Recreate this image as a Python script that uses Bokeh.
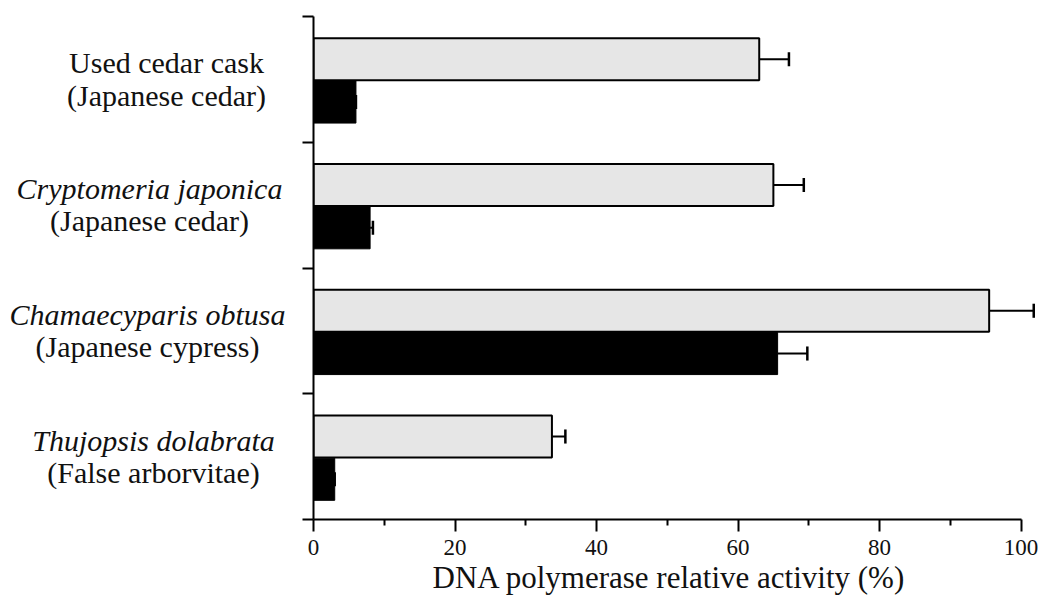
from bokeh.plotting import figure
from bokeh.layouts import row
from bokeh.models import Range1d, FixedTicker, ColumnDataSource, Title
from bokeh.core.properties import value
from bokeh.embed import file_html
from bokeh.resources import INLINE

# ---- data (top to bottom) ----
species = ["Used cedar cask", "Cryptomeria japonica", "Chamaecyparis obtusa", "Thujopsis dolabrata"]
common_names = ["(Japanese cedar)", "(Japanese cedar)", "(Japanese cypress)", "(False arborvitae)"]
name_style = ["normal", "italic", "italic", "italic"]

control_activity = [63.0, 65.0, 95.5, 33.7]      # light grey bars
control_err = [4.2, 4.3, 6.3, 1.9]
treated_activity = [6.0, 8.0, 65.6, 3.0]         # black bars
treated_err = [0.0, 0.4, 4.2, 0.0]

x_ticks = [0, 20, 40, 60, 80, 100]
x_minor = [10, 30, 50, 70, 90]
x_title = "DNA polymerase relative activity (%)"

# ---- layout constants ----
W, H = 1040, 598
LABEL_W = 293            # width of the label panel on the left
AXIS_PAD = 20            # room for the left axis ticks of the bar panel
TOP, BOTTOM = 16, 79
PX_PER_UNIT = 7.075
X_END = (W - LABEL_W - AXIS_PAD) / PX_PER_UNIT
FONT = "Times New Roman"
TEXT_COLOR = "#111111"

n = len(species)
centers = [n - i - 0.5 for i in range(n)]
bar_h = 0.335
y_ctrl = [c + 0.16 for c in centers]
y_trt = [c - 0.18 for c in centers]
y_range = Range1d(0, n)

# ---- bar panel ----
p = figure(width=W - LABEL_W, height=H, output_backend="svg", toolbar_location=None,
           x_range=Range1d(0, X_END), y_range=y_range,
           min_border_left=AXIS_PAD, min_border_right=0,
           min_border_top=TOP, min_border_bottom=BOTTOM)
p.outline_line_color = None
p.grid.visible = False

src = ColumnDataSource(dict(
    y_ctrl=y_ctrl, y_trt=y_trt,
    ctrl=control_activity, trt=treated_activity,
    ctrl_hi=[v + e for v, e in zip(control_activity, control_err)],
    trt_hi=[v + e for v, e in zip(treated_activity, treated_err)],
    ctrl_cap_lo=[y - 0.056 for y in y_ctrl], ctrl_cap_hi=[y + 0.056 for y in y_ctrl],
    trt_cap_lo=[y - 0.056 for y in y_trt], trt_cap_hi=[y + 0.056 for y in y_trt],
))

p.hbar(y="y_ctrl", left=0, right="ctrl", height=bar_h, source=src,
       fill_color="#e6e6e6", line_color="black", line_width=2)
p.hbar(y="y_trt", left=0, right="trt", height=bar_h, source=src,
       fill_color="black", line_color="black", line_width=1)

# error bars (upper side only)
p.segment(x0="ctrl", y0="y_ctrl", x1="ctrl_hi", y1="y_ctrl", source=src,
          line_color="black", line_width=2)
p.segment(x0="ctrl_hi", y0="ctrl_cap_lo", x1="ctrl_hi", y1="ctrl_cap_hi", source=src,
          line_color="black", line_width=2.5)
p.segment(x0="trt", y0="y_trt", x1="trt_hi", y1="y_trt", source=src,
          line_color="black", line_width=2)
p.segment(x0="trt_hi", y0="trt_cap_lo", x1="trt_hi", y1="trt_cap_hi", source=src,
          line_color="black", line_width=2.5)

xa = p.xaxis[0]
xa.ticker = FixedTicker(ticks=x_ticks, minor_ticks=x_minor)
xa.bounds = (0, 100)
xa.axis_line_width = 2
xa.major_tick_line_width = 2
xa.minor_tick_line_width = 2
xa.major_tick_in = 0
xa.major_tick_out = 12
xa.minor_tick_in = 0
xa.minor_tick_out = 6
xa.major_label_text_font = FONT
xa.major_label_text_font_size = "23px"
xa.major_label_text_color = TEXT_COLOR
xa.major_label_standoff = 8

# axis title placed under the 0-100 span of the axis
p.add_layout(Title(text=x_title, align="left", offset=119, standoff=0,
                   text_font=FONT, text_font_size="31px", text_font_style="normal",
                   text_color=TEXT_COLOR), "below")

ya = p.yaxis[0]
ya.ticker = FixedTicker(ticks=list(range(n + 1)), minor_ticks=[])
ya.axis_line_width = 2
ya.major_tick_line_width = 2
ya.major_tick_in = 0
ya.major_tick_out = 11
ya.major_label_overrides = {i: "" for i in range(n + 1)}
ya.major_label_standoff = 0

# ---- label panel: two lines per category ----
lab = figure(width=LABEL_W, height=H, output_backend="svg", toolbar_location=None,
             x_range=Range1d(0, LABEL_W), y_range=y_range,
             min_border_left=0, min_border_right=0,
             min_border_top=TOP, min_border_bottom=BOTTOM)
lab.axis.visible = False
lab.grid.visible = False
lab.outline_line_color = None

label_center_px = [166, 149, 147, 153]
lab_src = ColumnDataSource(dict(
    x=label_center_px,
    y1=[c + 0.132 for c in centers],
    y2=[c - 0.126 for c in centers],
    name=species, common=common_names, style=name_style,
))
lab.text(x="x", y="y1", text="name", source=lab_src,
         text_font=value(FONT), text_font_size="30px", text_font_style="style",
         text_align="center", text_baseline="alphabetic", text_color=TEXT_COLOR)
lab.text(x="x", y="y2", text="common", source=lab_src,
         text_font=value(FONT), text_font_size="30px",
         text_align="center", text_baseline="alphabetic", text_color=TEXT_COLOR)

layout = row(lab, p, spacing=0)
open("out.html", "w").write(file_html(layout, INLINE))
